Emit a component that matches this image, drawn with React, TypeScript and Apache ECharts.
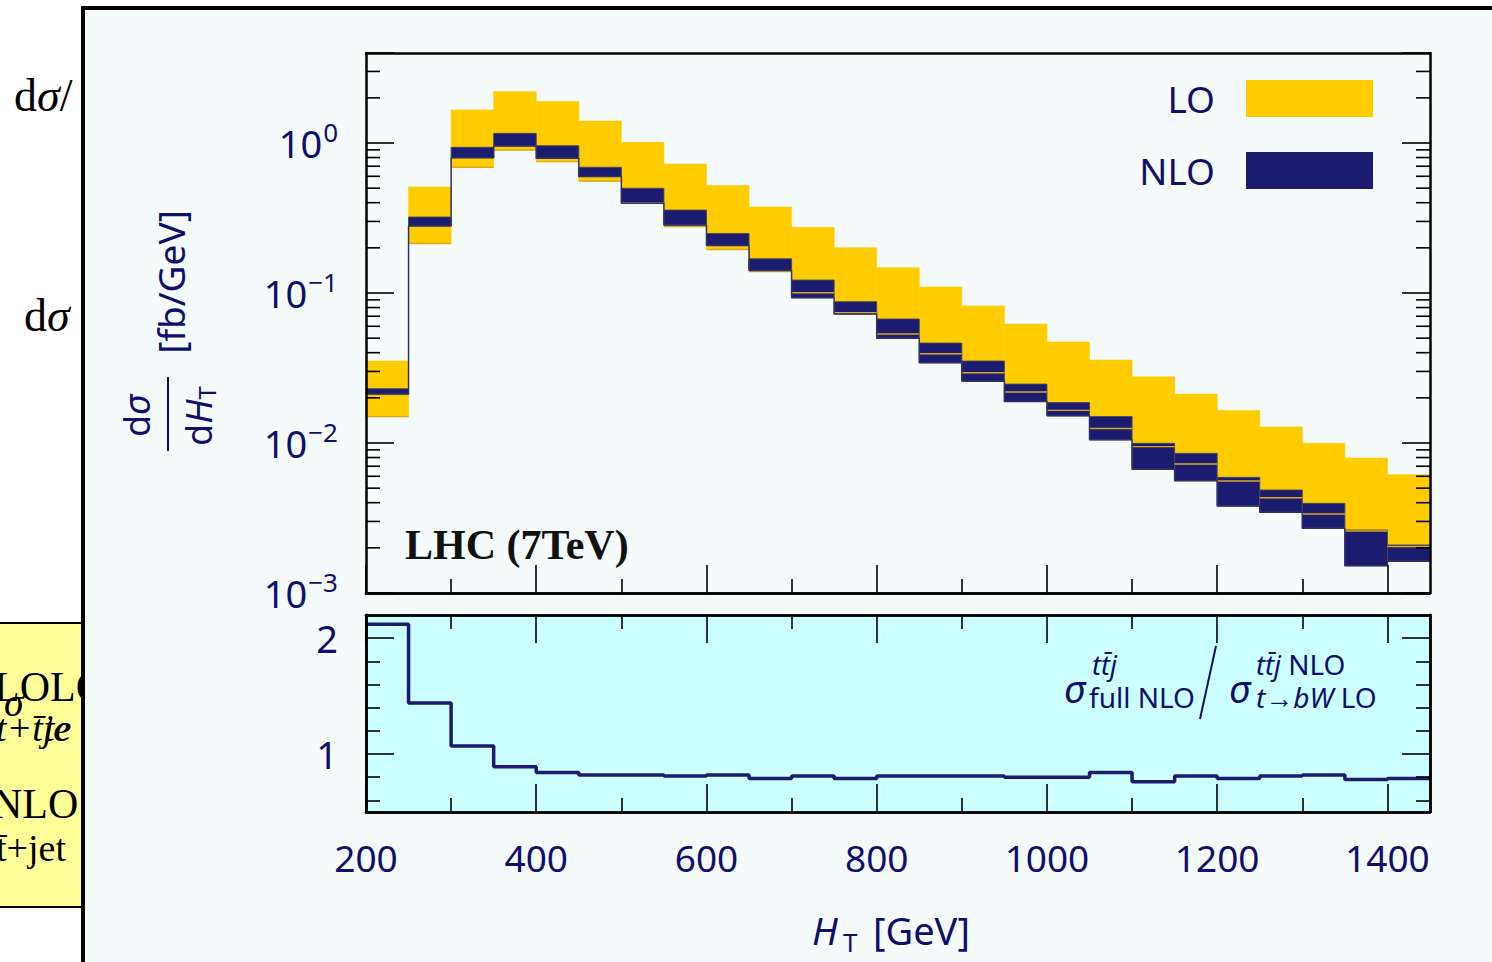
import React, { useEffect, useRef } from 'react';
import * as echarts from 'echarts';

// ---------- data ----------
const binStart = [200, 250, 300, 350, 400, 450, 500, 550, 600, 650, 700, 750, 800, 850, 900, 950, 1000, 1050, 1100, 1150, 1200, 1250, 1300, 1350, 1400];
const binEnd = [250, 300, 350, 400, 450, 500, 550, 600, 650, 700, 750, 800, 850, 900, 950, 1000, 1050, 1100, 1150, 1200, 1250, 1300, 1350, 1400, 1450];

// LO scale band (fb/GeV)
const loUpper = [0.0352, 0.509, 1.66, 2.2, 1.89, 1.4, 1.01, 0.724, 0.52, 0.374, 0.274, 0.2005, 0.1475, 0.1096, 0.0819, 0.0621, 0.0471, 0.0357, 0.0276, 0.0212, 0.0165, 0.0128, 0.00995, 0.00794, 0.00615];
const loLower = [0.015, 0.214, 0.689, 0.898, 0.751, 0.558, 0.398, 0.277, 0.195, 0.139, 0.1005, 0.0739, 0.0533, 0.0394, 0.0294, 0.0219, 0.0165, 0.0125, 0.00946, 0.00724, 0.00558, 0.00432, 0.00336, 0.00259, 0.00204];
// NLO scale band (fb/GeV)
const nloUpper = [0.023, 0.321, 0.936, 1.16, 0.959, 0.689, 0.499, 0.357, 0.249, 0.169, 0.122, 0.0875, 0.0671, 0.0464, 0.0352, 0.0247, 0.0186, 0.015, 0.00995, 0.00853, 0.0059, 0.00486, 0.00396, 0.00263, 0.00209];
const nloLower = [0.0212, 0.28, 0.798, 0.955, 0.791, 0.597, 0.396, 0.284, 0.207, 0.141, 0.0931, 0.0724, 0.0499, 0.0343, 0.0258, 0.0189, 0.0152, 0.0105, 0.00668, 0.00561, 0.0038, 0.00345, 0.0027, 0.00152, 0.00163];
// ratio full NLO / narrow-width NLO
const ratio = [2.12, 1.44, 1.07, 0.89, 0.84, 0.82, 0.82, 0.81, 0.82, 0.79, 0.81, 0.79, 0.81, 0.81, 0.81, 0.8, 0.8, 0.84, 0.76, 0.81, 0.79, 0.81, 0.82, 0.78, 0.79];

// ---------- axis ticks ----------
const xMajorTicks = [200, 400, 600, 800, 1000, 1200, 1400];
const xMinorTicks = [300, 500, 700, 900, 1100, 1300];
const logDecades = [0.001, 0.01, 0.1, 1];
const logMinorSteps = [2, 3, 4, 5, 6, 7, 8, 9];
const ratioMajorTicks = [1, 2];
const ratioMinorTicks = [0.6, 0.8, 1.2, 1.4, 1.6, 1.8];

const X_MIN = 200;
const X_MAX = 1450;
const Y_MIN = 0.001;
const Y_MAX = Math.pow(10, 0.6);
const R_MIN = 0.5;
const R_MAX = 2.2;

const NAVY = '#1b1b70';
const TEXT = '#0e0e6c';
const YELLOW = '#ffcc00';
const FONT = '"Noto Sans", sans-serif';
const SERIF = '"Liberation Serif", serif';

const logMinorTicks = logDecades
  .flatMap((d) => logMinorSteps.map((m) => m * d))
  .filter((v) => v < Y_MAX);

const stepPoints = (vals: number[]) =>
  binStart.flatMap((s, i) => [
    [s, vals[i]],
    [binEnd[i], vals[i]],
  ]);

const tickLine = { lineStyle: { color: '#000', width: 1.6 } };
const axisLineBlack = { show: true, onZero: false, lineStyle: { color: '#000', width: 2.5 } };

function xAxis(gridIndex: number, position: string, ticks: number[] | null, length: number, labels: boolean) {
  return {
    type: 'value',
    gridIndex,
    position,
    min: X_MIN,
    max: X_MAX,
    z: 10,
    axisLine: axisLineBlack,
    splitLine: { show: false },
    axisTick: ticks
      ? { show: true, inside: true, length, customValues: ticks, ...tickLine }
      : { show: false },
    axisLabel: labels
      ? {
          show: true,
          customValues: xMajorTicks,
          margin: 27,
          color: TEXT,
          fontSize: 37,
          fontFamily: FONT,
          formatter: (v: number) => String(v),
        }
      : { show: false },
  };
}

function ratioYAxis(position: string, ticks: number[], length: number, labels: boolean) {
  return {
    type: 'value',
    gridIndex: 1,
    position,
    min: R_MIN,
    max: R_MAX,
    z: 10,
    axisLine: axisLineBlack,
    splitLine: { show: false },
    axisTick: { show: true, inside: true, length, customValues: ticks, ...tickLine },
    axisLabel: labels
      ? {
          show: true,
          customValues: ratioMajorTicks,
          margin: 28,
          color: TEXT,
          fontSize: 38,
          fontFamily: FONT,
          formatter: (v: number) => String(v),
        }
      : { show: false },
  };
}

function logYAxis(position: string, labels: boolean) {
  return {
    type: 'log',
    logBase: 10,
    gridIndex: 0,
    position,
    min: Y_MIN,
    max: Y_MAX,
    z: 10,
    axisLine: axisLineBlack,
    splitLine: { show: false },
    axisTick: { show: true, inside: true, length: 28, ...tickLine },
    axisLabel: labels
      ? {
          show: true,
          margin: 28,
          formatter: (v: number) => {
            const l = Math.log10(v);
            const e = Math.round(l);
            if (Math.abs(l - e) > 1e-6) return '';
            return `{b|10}{s|${e < 0 ? '\u2212' + -e : e}}`;
          },
          rich: {
            b: { fontSize: 38, color: TEXT, fontFamily: FONT },
            s: { fontSize: 26, color: TEXT, fontFamily: FONT, padding: [0, 0, 22, 1] },
          },
        }
      : { show: false },
  };
}

function buildOption() {
  const bandSeries = (name: string, lower: number[], upper: number[], color: string, stroke: string, z: number) => ({
    type: 'custom',
    name,
    xAxisIndex: 0,
    yAxisIndex: 0,
    z,
    silent: true,
    itemStyle: { color },
    encode: { x: [0, 1], y: [2, 3] },
    data: binStart.map((s, i) => [s, binEnd[i], lower[i], upper[i]]),
    renderItem: (_p: any, api: any) => {
      const a = api.coord([api.value(0), api.value(3)]);
      const b = api.coord([api.value(1), api.value(2)]);
      return {
        type: 'rect',
        shape: { x: a[0], y: a[1], width: b[0] - a[0], height: b[1] - a[1] },
        style: { fill: color, stroke, lineWidth: stroke === color ? 0.6 : 1 },
      };
    },
  });

  const graphic: any[] = [
    // left-side slide fragments
    {
      type: 'text', x: 14, y: 95, z: 1,
      style: {
        text: '{a|d}{b|\u03c3}{a|/}', textVerticalAlign: 'middle',
        rich: { a: { fontFamily: SERIF, fontSize: 46, fill: '#000', color: '#000' }, b: { fontFamily: SERIF, fontStyle: 'italic', fontSize: 46, fill: '#000', color: '#000' } },
      },
    },
    {
      type: 'text', x: 24, y: 315, z: 1,
      style: {
        text: '{a|d}{b|\u03c3}', textVerticalAlign: 'middle',
        rich: { a: { fontFamily: SERIF, fontSize: 46, fill: '#000', color: '#000' }, b: { fontFamily: SERIF, fontStyle: 'italic', fontSize: 46, fill: '#000', color: '#000' } },
      },
    },
    { type: 'rect', z: 1, shape: { x: -4, y: 623, width: 86, height: 284 }, style: { fill: '#ffff99', stroke: '#000', lineWidth: 2 } },
    { type: 'text', x: -6, y: 687, z: 1.5, style: { text: 'LOLO', fontFamily: SERIF, fontSize: 42, fill: '#000', textVerticalAlign: 'middle' } },
    { type: 'text', x: 4, y: 702, z: 1.5, style: { text: '\u03c3', fontFamily: SERIF, fontStyle: 'italic', fontSize: 40, fill: '#000', textVerticalAlign: 'middle' } },
    { type: 'text', x: -4, y: 728, z: 1.5, style: { text: 't+t\u0304je', fontFamily: SERIF, fontStyle: 'italic', fontSize: 38, fill: '#000', textVerticalAlign: 'middle' } },
    { type: 'text', x: 44, y: 728, z: 1.5, style: { text: 'te', fontFamily: SERIF, fontStyle: 'italic', fontSize: 38, fill: '#000', textVerticalAlign: 'middle' } },
    { type: 'text', x: -8, y: 804, z: 1.5, style: { text: 'NLO', fontFamily: SERIF, fontSize: 42, fill: '#000', textVerticalAlign: 'middle' } },
    { type: 'text', x: -4, y: 848, z: 1.5, style: { text: 't\u0304+jet', fontFamily: SERIF, fontSize: 38, fill: '#000', textVerticalAlign: 'middle' } },
    // frame
    { type: 'rect', z: 2, shape: { x: 83, y: 8, width: 1500, height: 1000 }, style: { fill: '#f5fafa', stroke: '#000', lineWidth: 4 } },
    // y-axis title (rotated)
    {
      type: 'group',
      x: 168,
      y: 414,
      rotation: Math.PI / 2,
      z: 12,
      children: [
        {
          type: 'text', x: -2, y: -32, z: 12,
          style: {
            text: '{a|d}{b|\u03c3}', textAlign: 'center', textVerticalAlign: 'middle',
            rich: { a: { fontSize: 36, fontFamily: FONT, fill: TEXT, color: TEXT }, b: { fontSize: 36, fontFamily: FONT, fontStyle: 'italic', fill: TEXT, color: TEXT } },
          },
        },
        { type: 'line', z: 12, shape: { x1: -37, y1: 0, x2: 37, y2: 0 }, style: { stroke: TEXT, lineWidth: 2 } },
        {
          type: 'text', x: -2, y: 30, z: 12,
          style: {
            text: '{a|d}{b|H}{c|T}', textAlign: 'center', textVerticalAlign: 'middle',
            rich: {
              a: { fontSize: 36, fontFamily: FONT, fill: TEXT, color: TEXT },
              b: { fontSize: 36, fontFamily: FONT, fontStyle: 'italic', fill: TEXT, color: TEXT },
              c: { fontSize: 24, fontFamily: FONT, fill: TEXT, color: TEXT, padding: [16, 0, 0, 0] },
            },
          },
        },
        {
          type: 'text', x: 132, y: 2, z: 12,
          style: { text: '[fb/GeV]', textAlign: 'center', textVerticalAlign: 'middle', fontSize: 37, fontFamily: FONT, fill: TEXT },
        },
      ],
    },
    // x-axis title
    { type: 'text', x: 812, y: 930, z: 12, style: { text: 'H', fontFamily: FONT, fontStyle: 'italic', fontSize: 38, fill: TEXT, textVerticalAlign: 'middle' } },
    { type: 'text', x: 843, y: 942, z: 12, style: { text: 'T', fontFamily: FONT, fontSize: 26, fill: TEXT, textVerticalAlign: 'middle' } },
    { type: 'text', x: 873, y: 930, z: 12, style: { text: '[GeV]', fontFamily: FONT, fontSize: 38, fill: TEXT, textVerticalAlign: 'middle' } },
    // LHC label
    { type: 'text', x: 405, y: 545, z: 12, style: { text: 'LHC (7TeV)', fontFamily: SERIF, fontWeight: 'bold', fontSize: 42, fill: '#111', textVerticalAlign: 'middle' } },
    // ratio label
    { type: 'text', x: 1064, y: 688, z: 12, style: { text: '\u03c3', fontFamily: FONT, fontStyle: 'italic', fontSize: 38, fill: TEXT, textVerticalAlign: 'middle' } },
    { type: 'text', x: 1092, y: 664, z: 12, style: { text: 'tt\u0304j', fontFamily: FONT, fontStyle: 'italic', fontSize: 27, fill: TEXT, textVerticalAlign: 'middle' } },
    { type: 'text', x: 1089, y: 697, z: 12, style: { text: 'full NLO', fontFamily: FONT, fontSize: 28, fill: TEXT, textVerticalAlign: 'middle' } },
    { type: 'line', z: 12, shape: { x1: 1216, y1: 646, x2: 1200, y2: 719 }, style: { stroke: TEXT, lineWidth: 2 } },
    { type: 'text', x: 1229, y: 688, z: 12, style: { text: '\u03c3', fontFamily: FONT, fontStyle: 'italic', fontSize: 38, fill: TEXT, textVerticalAlign: 'middle' } },
    {
      type: 'text', x: 1256, y: 664, z: 12,
      style: {
        text: '{i|tt\u0304j}{r| NLO}', textVerticalAlign: 'middle',
        rich: { i: { fontSize: 27, fontFamily: FONT, fontStyle: 'italic', fill: TEXT, color: TEXT }, r: { fontSize: 28, fontFamily: FONT, fill: TEXT, color: TEXT } },
      },
    },
    {
      type: 'text', x: 1256, y: 697, z: 12,
      style: {
        text: '{i|t\u2192bW}{r| LO}', textVerticalAlign: 'middle',
        rich: { i: { fontSize: 28, fontFamily: FONT, fontStyle: 'italic', fill: TEXT, color: TEXT }, r: { fontSize: 28, fontFamily: FONT, fill: TEXT, color: TEXT } },
      },
    },
  ];

  return {
    animation: false,
    backgroundColor: '#ffffff',
    textStyle: { fontFamily: FONT },
    legend: {
      data: ['LO', 'NLO'],
      orient: 'vertical',
      right: 119,
      top: 80,
      padding: 0,
      itemWidth: 127,
      itemHeight: 37,
      itemGap: 35,
      align: 'right',
      icon: 'rect',
      selectedMode: false,
      z: 12,
      textStyle: { fontSize: 37, color: TEXT, fontFamily: FONT, lineHeight: 37, padding: [0, 26, 0, 0] },
    },
    grid: [
      { left: 366, top: 53, width: 1064, height: 540, show: false, z: 3 },
      { left: 366, top: 615, width: 1064, height: 197, show: true, backgroundColor: '#ccffff', borderWidth: 0, z: 3 },
    ],
    xAxis: [
      xAxis(0, 'bottom', xMajorTicks, 28, false),
      xAxis(0, 'bottom', xMinorTicks, 14, false),
      xAxis(0, 'top', null, 0, false),
      xAxis(1, 'bottom', xMajorTicks, 28, true),
      xAxis(1, 'bottom', xMinorTicks, 14, false),
      xAxis(1, 'top', xMajorTicks, 28, false),
      xAxis(1, 'top', xMinorTicks, 14, false),
    ],
    yAxis: [
      logYAxis('left', true),
      logYAxis('right', false),
      ratioYAxis('left', ratioMajorTicks, 28, true),
      ratioYAxis('left', ratioMinorTicks, 14, false),
      ratioYAxis('right', ratioMajorTicks, 28, false),
      ratioYAxis('right', ratioMinorTicks, 14, false),
    ],
    graphic,
    series: [
      bandSeries('LO', loLower, loUpper, YELLOW, YELLOW, 4),
      bandSeries('NLO', nloLower, nloUpper, NAVY, 'rgba(70,70,100,0.9)', 5),
      {
        type: 'custom',
        name: 'LO lower edge',
        xAxisIndex: 0,
        yAxisIndex: 0,
        z: 6,
        silent: true,
        encode: { x: [0, 1], y: 2 },
        data: binStart.map((s, i) => [s, binEnd[i], loLower[i]]),
        renderItem: (_p: any, api: any) => {
          const a = api.coord([api.value(0), api.value(2)]);
          const b = api.coord([api.value(1), api.value(2)]);
          return { type: 'line', shape: { x1: a[0], y1: a[1], x2: b[0], y2: b[1] }, style: { stroke: '#d8aa20', lineWidth: 1.4 } };
        },
      },
      {
        type: 'line',
        name: 'NLO lower step',
        xAxisIndex: 0,
        yAxisIndex: 0,
        z: 6,
        silent: true,
        symbol: 'none',
        lineStyle: { color: '#30306a', width: 1.5 },
        data: stepPoints(nloLower),
      },
      {
        type: 'custom',
        name: 'log minor ticks',
        xAxisIndex: 0,
        yAxisIndex: 0,
        z: 10,
        silent: true,
        encode: { x: 0, y: 1 },
        data: logMinorTicks.map((v) => [X_MIN, v]),
        renderItem: (_p: any, api: any) => {
          const v = api.value(1);
          const l = api.coord([X_MIN, v]);
          const r = api.coord([X_MAX, v]);
          return {
            type: 'group',
            children: [
              { type: 'line', shape: { x1: l[0], y1: l[1], x2: l[0] + 14, y2: l[1] }, style: { stroke: '#000', lineWidth: 1.6 } },
              { type: 'line', shape: { x1: r[0], y1: r[1], x2: r[0] - 14, y2: r[1] }, style: { stroke: '#000', lineWidth: 1.6 } },
            ],
          };
        },
      },
      {
        type: 'line',
        name: 'ratio',
        xAxisIndex: 3,
        yAxisIndex: 2,
        z: 6,
        silent: true,
        symbol: 'none',
        lineStyle: { color: NAVY, width: 3.5 },
        data: stepPoints(ratio),
      },
    ],
  };
}

export default function App() {
  const ref = useRef<HTMLDivElement>(null);
  useEffect(() => {
    if (!ref.current) return;
    const chart = echarts.init(ref.current, undefined, { renderer: 'svg' });
    chart.setOption(buildOption() as any);
    return () => chart.dispose();
  }, []);
  return <div ref={ref} style={{ position: 'absolute', left: 0, top: 0, width: 1492, height: 962 }} />;
}
